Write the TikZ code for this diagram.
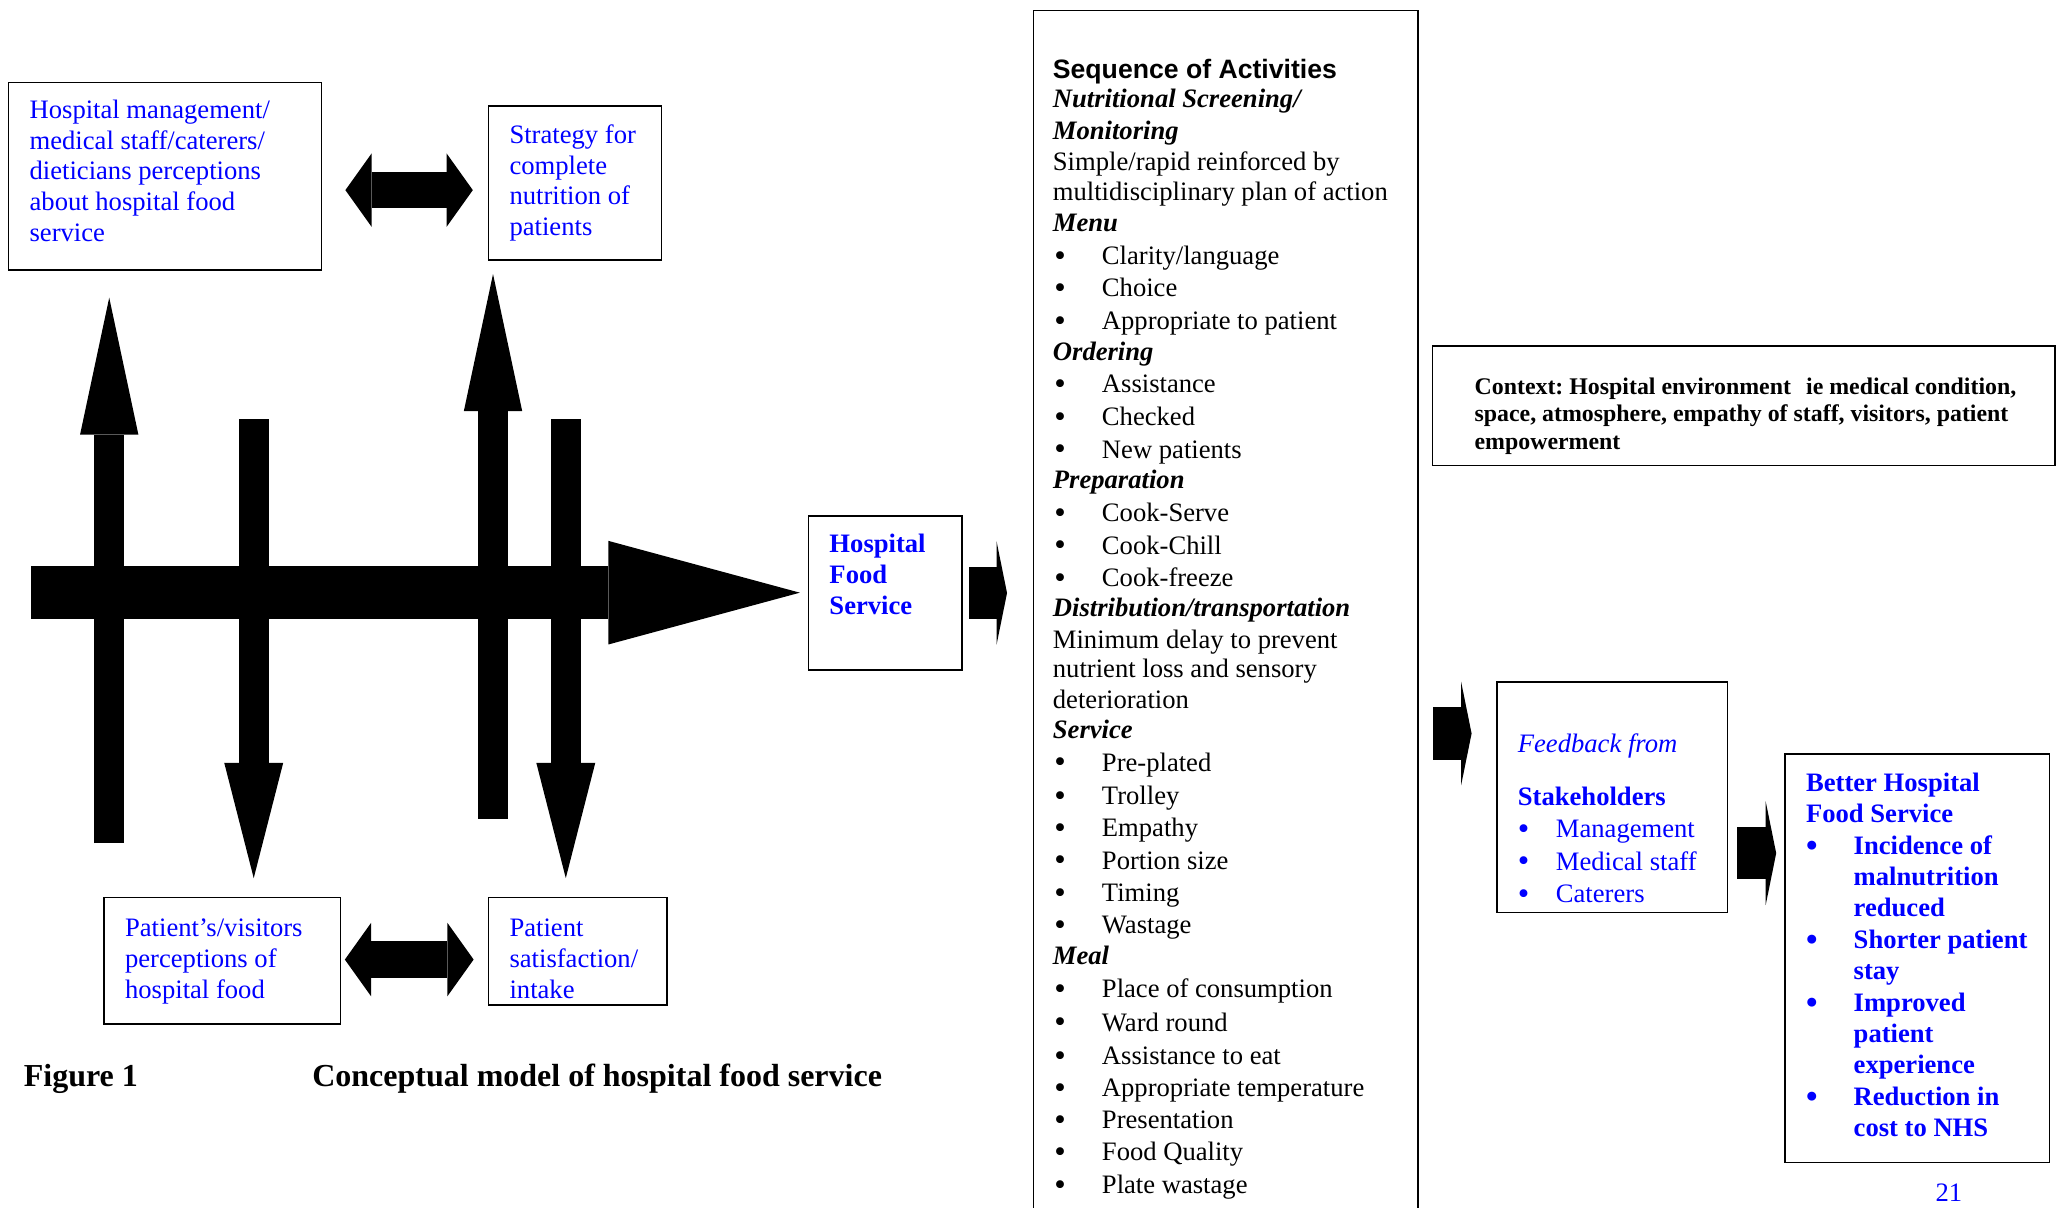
\documentclass[tikz,border=0pt]{standalone}
\usepackage{fontspec}
\setmainfont{Liberation Serif}
\setsansfont{Liberation Sans}
\usetikzlibrary{arrows.meta}

\newcommand\bodyfont{\fontsize{20.3pt}{23.5pt}\selectfont}
\newcommand\bigdot{\raisebox{-1.4pt}{\fontsize{25pt}{0pt}\selectfont\textbullet}}

\begin{document}
\begin{tikzpicture}[x=1pt, y=-1pt,
    infobox/.style={draw, line width=1.2pt, anchor=base west, align=flush left, inner ysep=0pt, inner xsep=16pt, font=\bodyfont},
    seqtxt/.style={anchor=mid west, inner sep=0pt, font=\bodyfont},
    seqhead/.style={seqtxt, font=\bodyfont\bfseries\itshape},
    seqbul/.style={seqtxt, execute at begin node={\llap{\bigdot\hspace{27.6pt}}}},
    caption/.style={anchor=mid west, inner sep=0pt, font=\fontsize{24.4pt}{28pt}\selectfont\bfseries},
    dblarrow/.style={line width=28pt, {Triangle[length=20pt, width=56pt, line width=0pt]}-{Triangle[length=20pt, width=56pt, line width=0pt]}},
    hbig/.style={line width=40pt, -{Triangle[length=146pt, width=79pt, line width=0pt]}},
    hsmall/.style={line width=40pt, -{Triangle[length=8pt, width=79pt, line width=0pt]}},
    vup/.style={line width=22.5pt, -{Triangle[length=104.5pt, width=44.5pt, line width=0pt]}},
    vdown/.style={line width=23pt, -{Triangle[length=88pt, width=45pt, line width=0pt]}}]
    \useasboundingbox (0,0) rectangle (1568,921);

    \node[infobox, text=blue, text width=206.5pt, text height=27.2pt, text depth=115.8pt] (hmgmt) at (6,90.2)
        {Hospital management/\\medical staff/caterers/\\dieticians perceptions\\about hospital food\\service};
    \node[infobox, text=blue, text width=100pt, text height=28.3pt, text depth=89pt] (strat) at (372,109.3)
        {Strategy for\\complete\\nutrition of\\patients};
    \node[infobox, text=blue, text width=148.4pt, text height=29.9pt, text depth=66.7pt] (patvis) at (78.8,714.3)
        {Patient’s/visitors\\perceptions of\\hospital food};
    \node[infobox, text=blue, text width=104pt, text height=29.9pt, text depth=52.2pt] (satisf) at (372,714.3)
        {Patient\\satisfaction/\\intake};
    \node[infobox, text=blue, font=\bodyfont\bfseries, text width=85pt, text height=28.1pt, text depth=89.4pt] (hfs) at (616,421.6)
        {Hospital\\Food\\Service};

    \draw[dblarrow, shorten <=17.7pt, shorten >=11.4pt] ([yshift=-10.5pt]hmgmt.east) -- ([yshift=-5.35pt]strat.west);
    \draw[dblarrow, shorten <=2.6pt, shorten >=10.8pt] ([yshift=0.9pt]patvis.east) -- ([yshift=-6.35pt]satisf.west);

    \coordinate (tail) at (24,452);
    \draw[hbig, shorten >=6pt] (tail) -- (tail -| hfs.west);
    \draw[vup] (83.3,643) -- (83.3,227);
    \draw[vdown] (193.5,319.7) -- (193.5,669.7);
    \draw[vup] (376,624.5) -- (376,209);
    \draw[vdown] (431.5,319.7) -- (431.5,669.7);

    \node[caption] (figno) at (18,826) {Figure 1};
    \node[caption] (figcap) at (238,826) {Conceptual model of hospital food service};

    \node[draw, line width=1.2pt, anchor=north west, minimum width=293pt, minimum height=1000pt, inner sep=0pt] (seq) at (787.6,7.5) {};
    \node[seqtxt, font=\bodyfont\sffamily\bfseries] (seqtitle) at (802.8,57.2) {Sequence of Activities};
    \foreach \y/\t [count=\i] in {80/{Nutritional Screening/}, 104.1/Monitoring, 174.3/Menu, 272.4/Ordering,
        370.5/Preparation, 468.2/{Distribution/transportation}, 561.2/Service, 733.5/Meal}
        \node[seqhead] (sh\i) at (802.8,\y) {\t};
    \foreach \y/\t [count=\i] in {127.5/{Simple/rapid reinforced by}, 150.9/multidisciplinary plan of action,
        492/Minimum delay to prevent, 514.5/nutrient loss and sensory, 537.8/deterioration}
        \node[seqtxt] (sp\i) at (802.8,\y) {\t};
    \foreach \y/\t [count=\i] in {199.2/{Clarity/language}, 224.1/Choice, 249/Appropriate to patient,
        297.3/Assistance, 322.2/Checked, 347.1/New patients,
        395.5/Cook-Serve, 420.3/Cook-Chill, 445.2/Cook-freeze,
        585.7/Pre-plated, 611.5/Trolley, 636/Empathy, 660.5/Portion size, 685.5/Timing, 709.8/Wastage,
        758.5/Place of consumption, 784/Ward round, 809.3/Assistance to eat, 833.7/Appropriate temperature,
        858.7/Presentation, 883.1/Food Quality, 908.1/Plate wastage}
        \node[seqbul] (sb\i) at (840.2,\y) {\t};

    \node[infobox, inner xsep=32pt, font=\fontsize{18.2pt}{21pt}\selectfont\bfseries\frenchspacing, text width=410.5pt, text height=36.6pt, text depth=54.4pt] (context) at (1092,300.6)
        {\mbox{Context: Hospital environment\hspace{7pt} ie medical condition,}\\
         \mbox{space, atmosphere, empathy of staff, visitors, patient}\\
         empowerment};
    \node[infobox, text=blue, text width=144pt, text height=53.6pt, text depth=122.4pt] (feedb) at (1141,573.6)
        {\textit{Feedback from}\\[17pt]
         \textbf{Stakeholders}\\[1pt]
         \makebox[29pt][l]{\bigdot}Management\\[1.5pt]
         \makebox[29pt][l]{\bigdot}Medical staff\\[1.5pt]
         \makebox[29pt][l]{\bigdot}Caterers};
    \node[infobox, text=blue, font=\bodyfont\bfseries, text width=169.7pt, text height=28.6pt, text depth=283pt] (better) at (1360.8,603.6)
        {Better Hospital\\
         Food Service\\[1.3pt]
         \makebox[36.3pt][l]{\bigdot}Incidence of\\
         \hspace*{36.3pt}malnutrition\\
         \hspace*{36.3pt}reduced\\[1.3pt]
         \makebox[36.3pt][l]{\bigdot}\mbox{Shorter patient}\\
         \hspace*{36.3pt}stay\\[1pt]
         \makebox[36.3pt][l]{\bigdot}Improved\\
         \hspace*{36.3pt}patient\\
         \hspace*{36.3pt}experience\\[1pt]
         \makebox[36.3pt][l]{\bigdot}Reduction in\\
         \hspace*{36.3pt}cost to NHS};

    \draw[hsmall, shorten <=5pt, shorten >=19.6pt] (hfs.east) -- (hfs.east -| seq.west);
    \coordinate (fbrow) at (0,559.4);
    \draw[hsmall, shorten <=11.4pt, shorten >=18.7pt] (seq.east |- fbrow) -- (feedb.west |- fbrow);
    \coordinate (btrow) at (0,650.7);
    \draw[hsmall, shorten <=6.7pt, shorten >=6.2pt] (feedb.east |- btrow) -- (better.west |- btrow);

    \node[seqtxt, text=blue] (pgno) at (1476,914) {21};
\end{tikzpicture}
\end{document}
